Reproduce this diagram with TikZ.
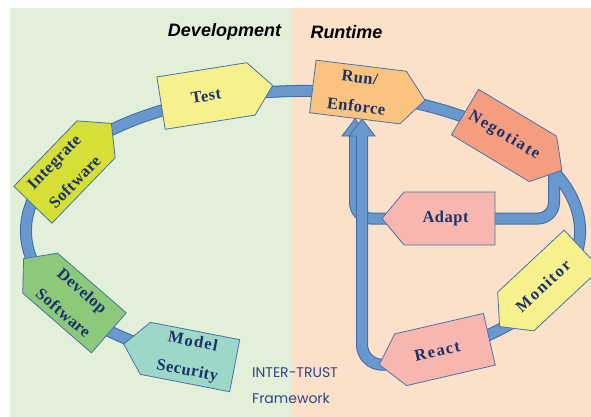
\documentclass[tikz,border=0pt]{standalone}
\usepackage{fontspec}
\setmainfont{Liberation Serif}
\newfontfamily\headfont{Liberation Sans}
\newfontfamily\fwfont{Poppins}
\pgfdeclarelayer{back}
\pgfdeclarelayer{conn}
\pgfsetlayers{back,conn,main}
\definecolor{bggreen}{RGB}{226,239,217}
\definecolor{bgpeach}{RGB}{252,225,202}
\definecolor{ringfill}{RGB}{104,152,206}
\definecolor{ringedge}{RGB}{62,108,165}
\definecolor{tagedge}{RGB}{70,115,165}
\definecolor{tagtextc}{RGB}{28,50,108}
\definecolor{fwtext}{RGB}{45,70,135}
\definecolor{cyellow}{RGB}{246,241,140}
\definecolor{clime}{RGB}{214,222,56}
\definecolor{cgreen}{RGB}{140,201,122}
\definecolor{cteal}{RGB}{156,215,200}
\definecolor{corange}{RGB}{250,196,128}
\definecolor{csalmon}{RGB}{244,157,128}
\definecolor{cpink}{RGB}{248,182,176}
\tikzset{
  tagline/.style={draw=tagedge,line width=0.8pt,line join=miter},
  tagtext/.style={text=tagtextc,font={\fontsize{16.5}{29}\selectfont\bfseries\addfontfeature{LetterSpace=3}},align=center,inner sep=0pt},
  bandout/.style={draw=ringedge,line width=12pt},
  bandin/.style={draw=ringfill,line width=10pt},
  headtext/.style={font={\headfont\bfseries\itshape\fontsize{18}{20}\selectfont},text=black,inner sep=0pt},
  fwlabel/.style={font={\fwfont\fontsize{14}{16}\selectfont},text=fwtext,inner sep=0pt,anchor=base west},
}
\newcommand{\putTagR}[6]{%
  \begin{scope}[shift={(#2,-#3)},rotate=#4]
    \path[tagline,fill=#5] (-45.5,-26.5) -- (45.5,-26.5) -- (67.5,0) -- (45.5,26.5) -- (-45.5,26.5) -- cycle;
    \coordinate (#1-tip) at (67.5,0);
    \node[tagtext,transform shape] (#1) at (0,0) {#6};
  \end{scope}}
\newcommand{\putTagL}[7]{%
  \begin{scope}[shift={(#2,-#3)},rotate=#4]
    \path[tagline,fill=#5] (45.5,-26.5) -- (-45.5,-26.5) -- (-67.5,0) -- (-45.5,26.5) -- (45.5,26.5) -- cycle;
    \coordinate (#1-tip) at (-67.5,0);
    \node[tagtext,transform shape] (#1) at (#7,0) {#6};
  \end{scope}}
\begin{document}
\begin{tikzpicture}[x=1pt,y=1pt]
\useasboundingbox (0,0) rectangle (591,-417);
\begin{pgfonlayer}{back}
  \fill[white] (0,0) rectangle (591,-417);
  \fill[bggreen] (10,-8) rectangle (292,-417);
  \fill[bgpeach] (292,-8) rectangle (591,-417);
\end{pgfonlayer}
\clip (0,0) rectangle (591,-417);

\node[headtext] (devlabel) at (224.5,-32) {Development};
\node[headtext] (runlabel) at (346.5,-32) {Runtime};

\putTagR{test}{206}{96}{9}{cyellow}{Test}
\putTagR{run}{358}{92}{-7}{corange}{Run/\\Enforce}
\putTagR{nego}{504}{135.5}{-31}{csalmon}{\addfontfeature{LetterSpace=10}Negotiate}
\putTagR{integ}{64.5}{172}{46}{clime}{Integrate\\Software}
\putTagL{adapt}{449.5}{218.5}{0}{cpink}{Adapt}{-4}
\putTagL{monitor}{549}{280.5}{43}{cyellow}{\addfontfeature{LetterSpace=10}Monitor}{-8}
\putTagL{react}{445}{349.5}{13}{cpink}{\addfontfeature{LetterSpace=9}React}{-8}
\putTagL{model}{190}{357}{-11}{cteal}{\addfontfeature{LetterSpace=8}Model\\Security}{0}
\putTagL{develop}{74.5}{303}{-41}{cgreen}{Develop\\Software}{-2}

\node[fwlabel] (fw1) at (252,-377) {INTER-TRUST};
\node[fwlabel] (fw2) at (252,-403) {Framework};

\begin{pgfonlayer}{conn}
  \coordinate (ringc) at (303,-231);
  \coordinate (negoout) at (554,-165);
  \coordinate (adaptup) at (355,-136);
  \coordinate (reactup) at (362,-136);
  \foreach \s in {bandout,bandin}{
    \draw[\s] ([shift={(245:277pt and 140pt)}]ringc) arc[start angle=245,end angle=-61,x radius=277pt,y radius=140pt];
    \draw[\s,rounded corners=16pt] (negoout) |- (adapt.east);
  }
  \foreach \s in {bandout,bandin}{
    \draw[\s,rounded corners=16pt] (adapt.west) -| (adaptup);
  }
  \fill[ringfill] (adaptup) ++(-13,0) -- ++(13,17) -- ++(13,-17) -- cycle;
  \draw[ringedge,line width=0.8pt,line join=miter] (adaptup) ++(-6,0) -- ++(-7,0) -- ++(13,17) -- ++(13,-17) -- ++(-7,0);
  \foreach \s in {bandout,bandin}{
    \draw[\s,rounded corners=20pt] ([xshift=26pt]react-tip) -| (reactup);
  }
  \fill[ringfill] (reactup) ++(-13,0) -- ++(13,17) -- ++(13,-17) -- cycle;
  \draw[ringedge,line width=0.8pt,line join=miter] (reactup) ++(-6,0) -- ++(-7,0) -- ++(13,17) -- ++(13,-17) -- ++(-7,0);
\end{pgfonlayer}
\end{tikzpicture}
\end{document}
